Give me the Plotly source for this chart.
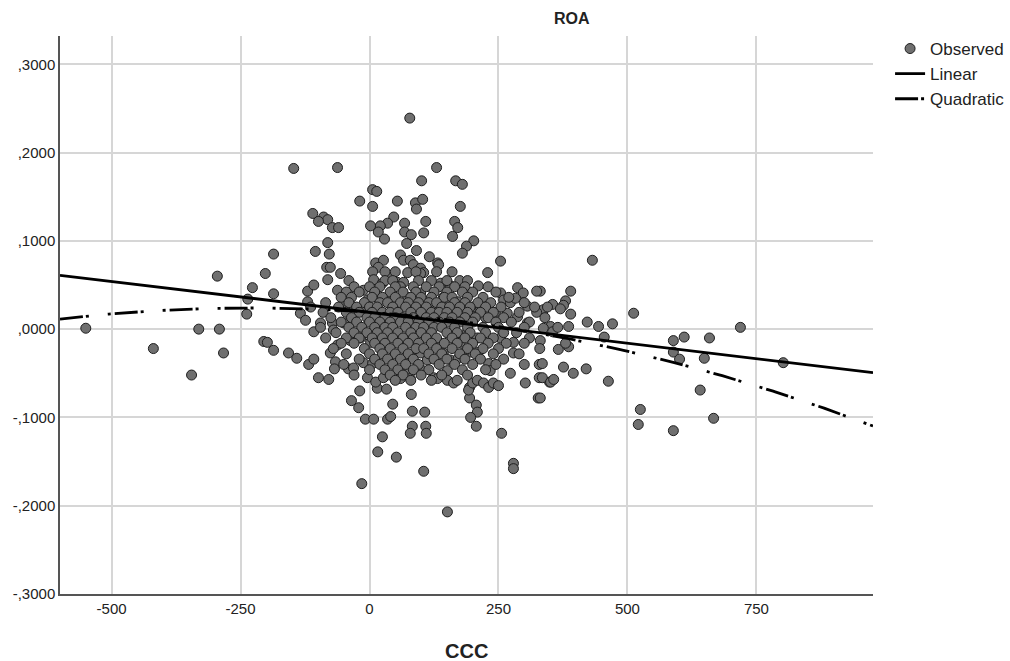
import numpy as np
import plotly.graph_objects as go

ccc_left = [-550, -419, -345, -331, -295, -291, -283, -236, -238, -227,
            -202, -205, -198, -186, -186, -186, -157, -141, -147, -62]
roa_left = [0.001, -0.022, -0.052, 0.000, 0.060, 0.000, -0.027, 0.034, 0.017, 0.047,
            0.063, -0.014, -0.015, 0.085, 0.040, -0.024, -0.027, -0.033, 0.182, 0.183]

ccc_low = [-118, -108, -99, -79, -76, -66, -68, -41, -31, -19,
           -35, -21, -8, 8, 35, 41, 45, 25, 16, 52,
           -15, 151, 15, 33, -4, 12, 27, -12, 6, 60,
           74, 81, 83, 107, 83, 79, 109, 110, 105, 194,
           194, 192, 200, 209, 221, 231, 240, 250, 207, 209,
           196, 207, 256, 279, 279, 231, 234, 273, 302, 329,
           329, 327, 349, 254, 279, 279, 331, 79, 151, 151,
           163, 103, 124, 132, 83, 99, 112, 163, 176, 190,
           209, 211, 196, 182, 138, 143, 157, 172]
roa_low = [-0.040, -0.034, -0.055, -0.057, -0.027, -0.037, -0.045, -0.045, -0.044, -0.070,
           -0.081, -0.089, -0.102, -0.102, -0.102, -0.099, -0.085, -0.122, -0.139, -0.145,
           -0.175, -0.207, -0.067, -0.068, -0.055, -0.060, -0.055, -0.038, -0.039, -0.056,
           -0.047, -0.074, -0.093, -0.094, -0.110, -0.118, -0.110, -0.118, -0.161, -0.066,
           -0.078, -0.069, -0.061, -0.058, -0.061, -0.066, -0.061, -0.064, -0.086, -0.094,
           -0.100, -0.110, -0.118, -0.152, -0.158, -0.039, -0.047, -0.050, -0.061, -0.040,
           -0.055, -0.078, -0.060, -0.010, -0.015, -0.027, -0.013, -0.056, -0.047, -0.058,
           -0.061, -0.047, -0.055, -0.056, -0.032, -0.027, -0.035, -0.007, -0.015, -0.003,
           -0.010, -0.026, -0.026, -0.027, -0.016, -0.027, -0.035, -0.033]

ccc_right = [432, 390, 355, 380, 376, 370, 390, 337, 422, 444,
             471, 386, 351, 337, 355, 512, 455, 589, 610, 659,
             589, 601, 649, 366, 386, 380, 335, 376, 395, 420,
             335, 351, 357, 331, 463, 641, 525, 521, 589, 667,
             719, 802, 331]
roa_right = [0.078, 0.043, 0.028, 0.032, 0.027, 0.023, 0.017, 0.022, 0.008, 0.003,
             0.006, 0.003, 0.003, 0.001, -0.003, 0.018, -0.009, -0.013, -0.009, -0.010,
             -0.026, -0.034, -0.033, -0.023, -0.020, -0.016, -0.039, -0.043, -0.050, -0.045,
             -0.055, -0.060, -0.057, -0.078, -0.059, -0.069, -0.091, -0.108, -0.115, -0.101,
             0.002, -0.038, 0.043]

ccc_up = [78, 130, 101, 167, 180, 6, 14, -19, 54, 89,
          103, 91, 6, 176, -110, -89, -81, -99, -72, -60,
          47, 35, 21, 17, 29, 2, 68, 68, 81, 109,
          105, 165, 171, 161, 202, 188, 180, -81, 72, 91,
          -105, -78, 254, 229, -56, 116, 132, 134, 60, 66,
          79, 85, 99, 105, 12, 27, 17, -83, -76, -81,
          -120, -108, -62, 138, 157, 211, 254, 6, 8, 25,
          41, 54, 66, 287, 298, 324, 74, 60, -12, 15,
          31, -4, -120, -114, -134, -124, -50, -31, -17, -95,
          -72, -50, 260, 273, 283, 306, 324, 345, 200, 215,
          143, 157, 171, 180, 202, 225, 244, 267, 287, 306,
          124, 138, 99, 105, -70, -62, -108, -37, -17, 2,
          74, 99]
roa_up = [0.239, 0.183, 0.168, 0.168, 0.164, 0.158, 0.156, 0.145, 0.145, 0.143,
          0.147, 0.136, 0.139, 0.139, 0.131, 0.127, 0.124, 0.122, 0.115, 0.115,
          0.127, 0.120, 0.117, 0.110, 0.102, 0.117, 0.120, 0.110, 0.107, 0.122,
          0.109, 0.122, 0.115, 0.105, 0.100, 0.094, 0.086, 0.098, 0.097, 0.089,
          0.088, 0.085, 0.077, 0.064, 0.063, 0.082, 0.075, 0.073, 0.084, 0.078,
          0.078, 0.073, 0.069, 0.064, 0.075, 0.078, 0.070, 0.070, 0.070, 0.056,
          0.043, 0.050, 0.044, 0.052, 0.049, 0.049, 0.041, 0.065, 0.056, 0.052,
          0.058, 0.053, 0.053, 0.047, 0.041, 0.043, 0.036, 0.048, 0.044, 0.036,
          0.035, 0.033, 0.031, 0.025, 0.018, 0.010, 0.030, 0.025, 0.022, 0.007,
          0.007, 0.007, 0.033, 0.030, 0.035, 0.026, 0.019, 0.025, 0.025, 0.025,
          0.036, 0.031, 0.031, 0.018, 0.014, 0.013, 0.019, 0.018, 0.014, 0.007,
          0.025, 0.022, 0.041, 0.030, -0.001, -0.018, -0.003, -0.013, -0.010, -0.015,
          0.064, 0.063]

# dense core: ROA level -> CCC values of points estimated at that level
core_roa_levels = [0.065, 0.055, 0.048, 0.042, 0.036, 0.030, 0.025, 0.019, 0.013, 0.008,
                   0.002, -0.004, -0.010, -0.016, -0.022, -0.028, -0.034, -0.040, -0.046,
                   -0.052, -0.058]
core_ccc_rows = [
    [30, 50, 90, 130, 160],
    [-40, 30, 45, 95, 120, 150, 175, 190],
    [-30, 0, 20, 50, 85, 110, 135, 165, 185, 230],
    [-45, -20, 10, 40, 65, 90, 125, 150, 180, 200, 245],
    [-55, -35, 5, 25, 50, 80, 100, 120, 145, 160, 190, 220, 270],
    [-85, -40, -10, 20, 35, 60, 75, 95, 115, 130, 165, 185, 210, 235, 300],
    [-60, -25, 0, 15, 45, 70, 90, 110, 140, 155, 175, 195, 225, 255, 320],
    [-90, -45, -20, 5, 25, 40, 55, 80, 100, 120, 135, 150, 170, 190, 215, 240, 290],
    [-75, -35, -5, 10, 30, 50, 65, 85, 110, 125, 145, 160, 185, 205, 230, 260, 340],
    [-55, -25, 0, 20, 40, 60, 75, 95, 115, 135, 155, 175, 200, 245, 275, 310],
    [-95, -40, -15, 10, 30, 45, 70, 90, 105, 125, 140, 165, 190, 220, 250, 300, 365],
    [-65, -30, -5, 15, 35, 55, 80, 100, 120, 150, 170, 195, 225, 260, 285],
    [-85, -45, -20, 5, 25, 45, 65, 85, 110, 130, 160, 185, 215, 240, 310],
    [-55, -30, 10, 30, 55, 75, 95, 120, 145, 170, 200, 230, 265, 300],
    [-70, -10, 20, 40, 65, 90, 105, 130, 160, 190, 220, 250, 330],
    [-45, 0, 25, 50, 75, 115, 140, 175, 205, 240, 290],
    [-20, 10, 35, 60, 85, 125, 150, 185, 215, 260],
    [-50, 20, 45, 70, 95, 135, 165, 200, 245, 300],
    [0, 30, 55, 85, 115, 180, 225],
    [-30, 40, 65, 100, 140, 190],
    [50, 80, 120, 170],
]

# fitted model coefficients
lin_b0, lin_b1 = 0.0190, -7.0e-5
quad_b0, quad_b1, quad_b2 = 0.01919, -4.227e-5, -9.208e-8

x_tick_vals = [-500, -250, 0, 250, 500, 750]
x_tick_text = ["-500", "-250", "0", "250", "500", "750"]
y_tick_vals = [-0.3, -0.2, -0.1, 0.0, 0.1, 0.2, 0.3]
y_tick_text = ["-,3000", "-,2000", "-,1000", ",0000", ",1000", ",2000", ",3000"]

# ---------------- assemble ----------------
for a, b in [(ccc_left, roa_left), (ccc_low, roa_low), (ccc_right, roa_right), (ccc_up, roa_up)]:
    assert len(a) == len(b)
assert len(core_roa_levels) == len(core_ccc_rows)

core_x, core_y = [], []
for lvl, row in zip(core_roa_levels, core_ccc_rows):
    core_x += row
    core_y += [lvl] * len(row)

ccc = ccc_left + ccc_low + ccc_right + ccc_up + core_x
roa = roa_left + roa_low + roa_right + roa_up + core_y

x_min, x_max = -600, 976
y_min, y_max = -0.3, 0.332
xs = np.linspace(x_min, x_max, 400)
lin = lin_b0 + lin_b1 * xs
quad = quad_b0 + quad_b1 * xs + quad_b2 * xs ** 2

FONT = "Liberation Sans, Arial, sans-serif"

fig = go.Figure()
fig.add_trace(go.Scatter(
    x=ccc, y=roa, mode="markers", name="Observed", legendgroup="a",
    marker=dict(size=10, color="#6f6f6f", line=dict(color="#1e1e1e", width=1)),
))
fig.add_trace(go.Scatter(
    x=xs, y=lin, mode="lines", name="Linear", legendgroup="b",
    line=dict(color="black", width=2.8),
))
fig.add_trace(go.Scatter(
    x=xs, y=quad, mode="lines", name="Quadratic", legendgroup="c",
    line=dict(color="black", width=2.8, dash="23px,3px,3px,19px,3px,4px"),
))

fig.update_layout(
    width=1010, height=661,
    margin=dict(l=60, r=137, t=36, b=67, autoexpand=False),
    paper_bgcolor="white", plot_bgcolor="white",
    font=dict(family=FONT, color="#222222", size=15),
    showlegend=True,
    legend=dict(
        x=1.021, y=1.009, xanchor="left", yanchor="top",
        font=dict(family=FONT, size=17, color="#222222"),
        traceorder="grouped", tracegroupgap=0,
        bgcolor="rgba(0,0,0,0)", borderwidth=0,
    ),
    xaxis=dict(
        range=[x_min, x_max], tickvals=x_tick_vals, ticktext=x_tick_text,
        showgrid=True, gridcolor="#d6d6d6", gridwidth=1.5,
        showline=True, linecolor="#555555", linewidth=1.5,
        zeroline=False, ticks="", tickfont=dict(size=15, color="#222222"),
    ),
    yaxis=dict(
        range=[y_min, y_max], tickvals=y_tick_vals, ticktext=y_tick_text,
        showgrid=True, gridcolor="#d6d6d6", gridwidth=1.5,
        showline=True, linecolor="#555555", linewidth=1.5,
        zeroline=False, ticks="", tickfont=dict(size=15, color="#222222"),
    ),
    annotations=[
        dict(text="<b>ROA</b>", xref="paper", yref="paper", x=0.6298, y=1.032,
             xanchor="center", yanchor="middle", showarrow=False,
             font=dict(family=FONT, size=16, color="#222222")),
        dict(text="<b>CCC</b>", xref="paper", yref="paper", x=0.5006, y=-0.1022,
             xanchor="center", yanchor="middle", showarrow=False,
             font=dict(family=FONT, size=20, color="#222222")),
    ],
)

fig.write_html("out.html")
